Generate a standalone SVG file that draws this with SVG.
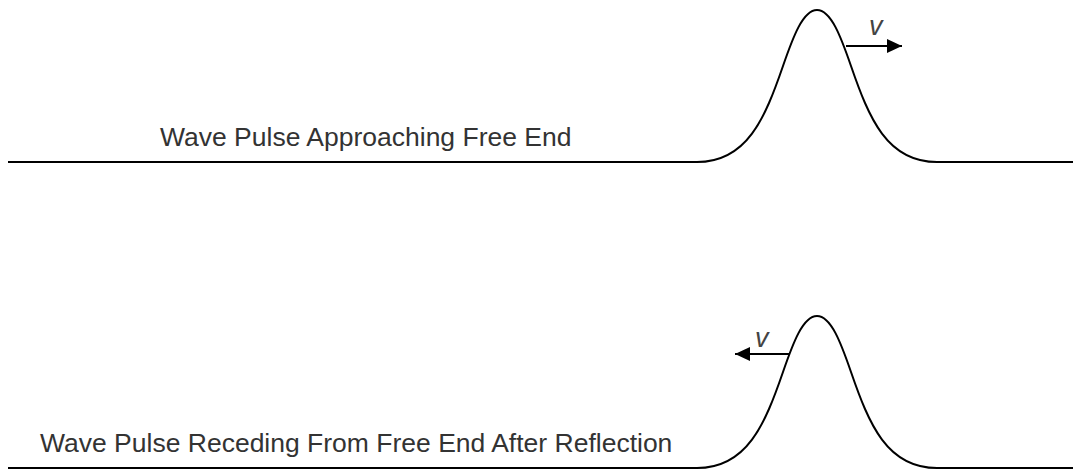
<svg xmlns="http://www.w3.org/2000/svg" width="1073" height="470" viewBox="0 0 1073 470">
  <style>
    .wave { fill: none; stroke: #000; stroke-width: 2; stroke-linejoin: round; }
    .arrow { fill: none; stroke: #000; stroke-width: 2; marker-end: url(#head); }
    .label { font-family: "Liberation Sans", Arial, sans-serif; font-size: 26.5px; fill: #333; }
    .vel { font-family: "Liberation Sans", Arial, sans-serif; font-size: 27px; font-style: italic; fill: #444; }
  </style>
  <defs>
    <marker id="head" markerUnits="userSpaceOnUse" markerWidth="16" markerHeight="16" refX="15" refY="7" orient="auto">
      <path d="M0,0 L15,7 L0,14 Z" fill="#000"/>
    </marker>
    <path id="pulse" d="M8,162 H697 C747,162 765,118.2 783,66 C793,37 803,10 817,10 C831,10 841,37 851,66 C869,118.2 887,162 937,162 H1073"/>
  </defs>
  <rect width="1073" height="470" fill="#fff"/>
  <g id="top-wave">
    <use href="#pulse" class="wave"/>
  </g>
  <g id="top-label">
    <text class="label" x="160" y="146">Wave Pulse Approaching Free End</text>
  </g>
  <g id="bottom-wave">
    <use href="#pulse" class="wave" transform="translate(0,306)"/>
  </g>
  <g id="bottom-label">
    <text class="label" x="40" y="452">Wave Pulse Receding From Free End After Reflection</text>
  </g>
  <g id="connectors">
    <line class="arrow" x1="846" y1="46" x2="902" y2="46"/>
    <line class="arrow" x1="790" y1="354" x2="735" y2="354"/>
  </g>
  <g id="velocity-labels">
    <text class="vel" x="869" y="35">v</text>
    <text class="vel" x="755" y="347">v</text>
  </g>
</svg>
